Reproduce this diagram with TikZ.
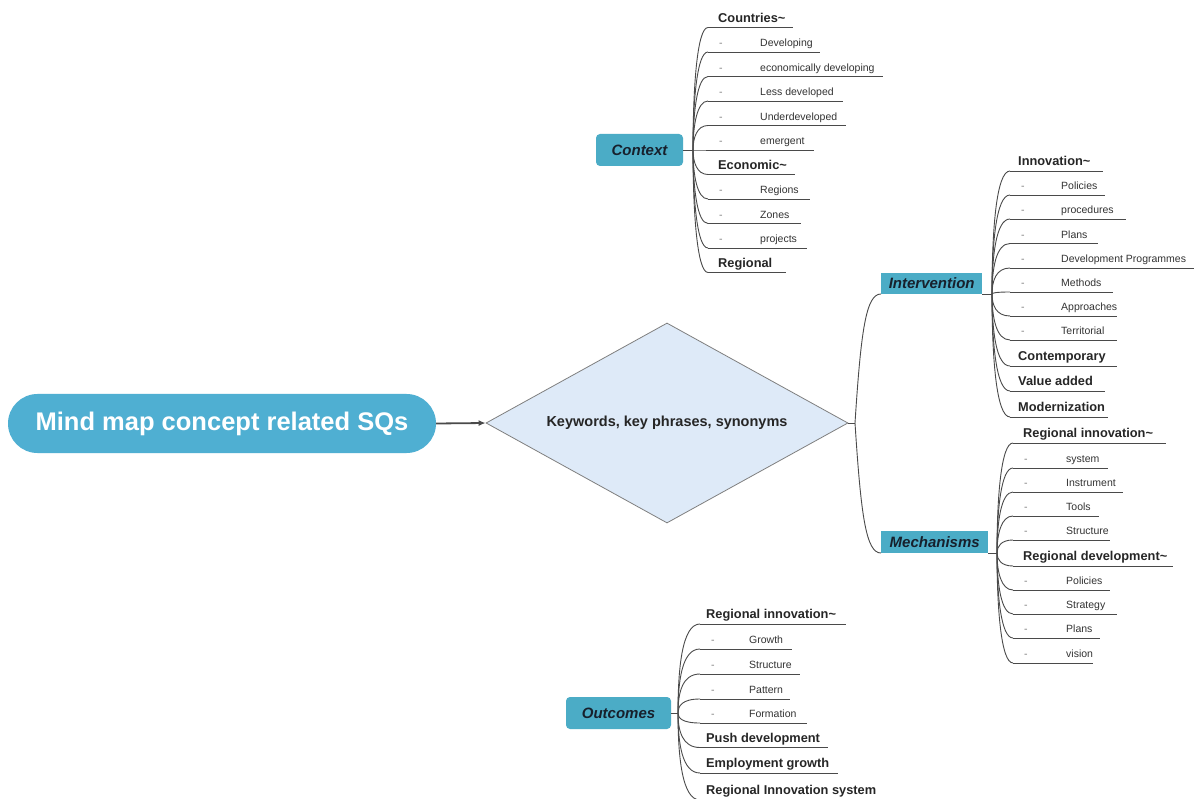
\documentclass[tikz,border=0pt]{standalone}
\usepackage{fontspec}
\setmainfont{Liberation Sans}
\usetikzlibrary{shapes.geometric,arrows.meta,calc}

\definecolor{boxblue}{HTML}{4BACC6}
\definecolor{pillblue}{HTML}{4FAFD2}
\definecolor{diafill}{HTML}{DEEAF8}
\definecolor{diaedge}{HTML}{7F7F7F}
\definecolor{wirecol}{HTML}{4A4A4A}
\definecolor{ink}{HTML}{262626}
\definecolor{subink}{HTML}{333333}
\definecolor{boxink}{HTML}{17202C}

% per-group text offsets: bold entry start, sub-entry word start
\newlength\hdoff
\newlength\wdoff

% underlined bold entry: name, branch point, x, y (underline), underline end x, text
\newcommand\leafh[6]{%
  \node[leaf, font=\bfseries\fontsize{12.8}{14}\selectfont] (#1) at (#3,#4)
    {\makebox[\dimexpr#5pt-#3pt\relax][l]{\hspace*{\hdoff}#6}};
  \draw[wire] (#1.south west) -- (#1.south east);
  \draw[wire] (#2) .. controls ($(#2)!0.5!(#2|-#1.south west)$)
    and ($(#2|-#1.south west)+(4,0)$) .. (#1.south west);
}
% underlined dashed sub-entry: same arguments
\newcommand\leafs[6]{%
  \node[leaf, text=subink, font=\fontsize{10.5}{12}\selectfont] (#1) at (#3,#4)
    {\makebox[\dimexpr#5pt-#3pt\relax][l]{\hspace*{11pt}\makebox[\dimexpr\wdoff-11pt\relax][l]{\textcolor{diaedge}{-}}#6}};
  \draw[wire] (#1.south west) -- (#1.south east);
  \draw[wire] (#2) .. controls ($(#2)!0.5!(#2|-#1.south west)$)
    and ($(#2|-#1.south west)+(4,0)$) .. (#1.south west);
}

\begin{document}
\begin{tikzpicture}[x=1pt,y=-1pt,
  wire/.style={draw=wirecol,line width=0.9pt},
  leaf/.style={anchor=south west,inner xsep=0pt,inner ysep=5pt,text depth=0pt,text=ink},
  tag/.style={fill=boxblue,text=boxink,inner sep=0pt,
    font=\bfseries\itshape\fontsize{15}{18}\selectfont}]
\useasboundingbox (0,0) rectangle (1194,799);
\fill[white] (0,0) rectangle (1194,799);

% root and central diamond
\node[fill=pillblue, rounded corners=29.5pt, minimum width=428pt, minimum height=59pt,
  inner sep=0pt, text=white, font=\bfseries\fontsize{25.5}{30}\selectfont]
  (root) at (222,423.5) {Mind map concept related SQs};
\node[diamond, draw=diaedge, fill=diafill, line width=0.8pt, shape aspect=1.81,
  minimum width=362pt, minimum height=200pt, inner sep=0pt, text=ink,
  font=\bfseries\fontsize{14.5}{17}\selectfont]
  (kw) at (667,423) {Keywords, key phrases, synonyms};
\draw[draw=wirecol, line width=1.8pt, -{Latex[length=7pt,width=6pt]}] (root.east) -- (kw.west);

% category tags
\node[tag, rounded corners=4pt, minimum width=87pt, minimum height=32pt] (ctx) at (639.5,150) {Context};
\node[tag, minimum width=101pt, minimum height=21pt, anchor=south west] (int) at (881,294) {Intervention};
\node[tag, minimum width=107pt, minimum height=22pt, anchor=south west] (mech) at (881,553) {Mechanisms};
\node[tag, rounded corners=4pt, minimum width=105pt, minimum height=32pt] (out) at (618.5,713) {Outcomes};

% branch points
\coordinate (kwb) at (855,423);
\coordinate (ctxb) at (693,150);
\coordinate (intb) at (992,294);
\coordinate (mechb) at (997,553);
\coordinate (outb) at (678,713);

\draw[wire] (kw.east) -- (kwb);
\draw[wire] (kwb) .. controls (861,330) and (866,294) .. (int.south west);
\draw[wire] (kwb) .. controls (861,516) and (866,553) .. (mech.south west);
\draw[wire] (ctx.east) -- (ctxb);
\draw[wire] (int.south east) -- (intb);
\draw[wire] (mech.south east) -- (mechb);
\draw[wire] (out.east) -- (outb);

% Context
\setlength\hdoff{10pt}\setlength\wdoff{52pt}
\leafh{c1}{ctxb}{708}{27.5}{793}{Countries\textasciitilde}
\leafs{c2}{ctxb}{708}{52}{820}{Developing}
\leafs{c3}{ctxb}{708}{76.5}{883}{economically developing}
\leafs{c4}{ctxb}{708}{101}{843}{Less developed}
\leafs{c5}{ctxb}{708}{125.5}{846}{Underdeveloped}
\leafs{c6}{ctxb}{708}{150}{814}{emergent}
\leafh{c7}{ctxb}{708}{174.5}{795}{Economic\textasciitilde}
\leafs{c8}{ctxb}{708}{199}{810}{Regions}
\leafs{c9}{ctxb}{708}{223.5}{801}{Zones}
\leafs{c10}{ctxb}{708}{248}{807}{projects}
\leafh{c11}{ctxb}{708}{272.5}{786}{Regional}

% Intervention
\setlength\hdoff{8pt}\setlength\wdoff{51pt}
\leafh{i1}{intb}{1010}{171}{1103}{Innovation\textasciitilde}
\leafs{i2}{intb}{1010}{195}{1105}{Policies}
\leafs{i3}{intb}{1010}{219}{1126}{procedures}
\leafs{i4}{intb}{1010}{243.5}{1098}{Plans}
\leafs{i5}{intb}{1010}{268}{1194}{Development Programmes}
\leafs{i6}{intb}{1010}{292}{1113}{Methods}
\leafs{i7}{intb}{1010}{316}{1117}{Approaches}
\leafs{i8}{intb}{1010}{340}{1117}{Territorial}
\leafh{i9}{intb}{1010}{366}{1117}{Contemporary}
\leafh{i10}{intb}{1010}{391}{1105}{Value added}
\leafh{i11}{intb}{1010}{417}{1108}{Modernization}

% Mechanisms
\setlength\hdoff{10pt}\setlength\wdoff{53pt}
\leafh{m1}{mechb}{1013}{443}{1166}{Regional innovation\textasciitilde}
\leafs{m2}{mechb}{1013}{468}{1108}{system}
\leafs{m3}{mechb}{1013}{492}{1123}{Instrument}
\leafs{m4}{mechb}{1013}{516}{1099}{Tools}
\leafs{m5}{mechb}{1013}{540}{1110}{Structure}
\leafh{m6}{mechb}{1013}{566}{1173}{Regional development\textasciitilde}
\leafs{m7}{mechb}{1013}{590}{1110}{Policies}
\leafs{m8}{mechb}{1013}{614}{1117}{Strategy}
\leafs{m9}{mechb}{1013}{638}{1100}{Plans}
\leafs{m10}{mechb}{1013}{663}{1093}{vision}

% Outcomes
\setlength\hdoff{6pt}\setlength\wdoff{49pt}
\leafh{o1}{outb}{700}{624}{846}{Regional innovation\textasciitilde}
\leafs{o2}{outb}{700}{649}{792}{Growth}
\leafs{o3}{outb}{700}{674}{800}{Structure}
\leafs{o4}{outb}{700}{699}{790}{Pattern}
\leafs{o5}{outb}{700}{723}{807}{Formation}
\leafh{o6}{outb}{700}{747.5}{828}{Push development}
\leafh{o7}{outb}{700}{773}{838}{Employment growth}
\leafh{o8}{outb}{700}{800}{885}{Regional Innovation system}
\end{tikzpicture}
\end{document}
